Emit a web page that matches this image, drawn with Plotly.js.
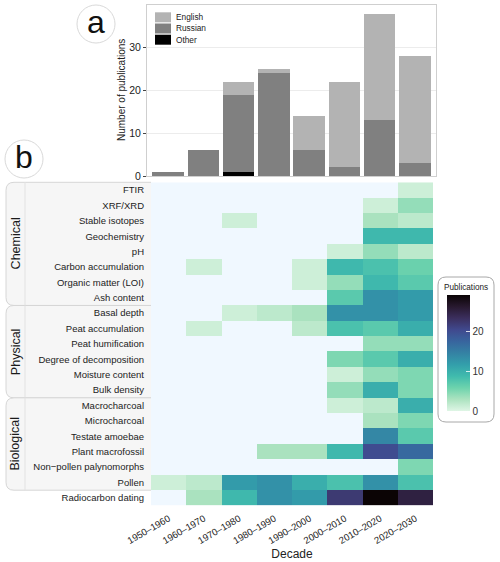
<!DOCTYPE html>
<html><head><meta charset="utf-8">
<script src="https://cdn.plot.ly/plotly-3.0.1.min.js"></script>
<style>html,body{margin:0;padding:0;background:#fff}#chart{width:500px;height:562px}</style>
</head><body><div id="chart"></div>
<script>
// ---------- data ----------
const decades = ["1950–1960","1960–1970","1970–1980","1980–1990","1990–2000","2000–2010","2010–2020","2020–2030"];
const langNames = ["English","Russian","Other"];
const english = [0,0,3,1,8,20,25,25];
const russian = [1,6,18,24,6,2,13,3];
const other   = [0,0,1,0,0,0,0,0];

const methods = ["FTIR","XRF/XRD","Stable isotopes","Geochemistry","pH","Carbon accumulation",
  "Organic matter (LOI)","Ash content","Basal depth","Peat accumulation","Peat humification",
  "Degree of decomposition","Moisture content","Bulk density","Macrocharcoal","Microcharcoal",
  "Testate amoebae","Plant macrofossil","Non−pollen palynomorphs","Pollen","Radiocarbon dating"];
const counts = [
  [0,0,0,0,0,0,0,1],
  [0,0,0,0,0,0,1,4],
  [0,0,1,0,0,0,3,2],
  [0,0,0,0,0,0,9,9],
  [0,0,0,0,0,1,4,2],
  [0,1,0,0,1,9,8,6],
  [0,0,0,0,1,4,9,7],
  [0,0,0,0,0,7,13,12],
  [0,0,1,2,3,13,13,12],
  [0,1,0,0,2,8,7,10],
  [0,0,0,0,0,0,4,4],
  [0,0,0,0,0,5,7,10],
  [0,0,0,0,0,1,4,5],
  [0,0,0,0,0,4,10,5],
  [0,0,0,0,0,1,2,10],
  [0,0,0,0,0,0,3,5],
  [0,0,0,0,0,0,14,7],
  [0,0,0,3,3,9,20,17],
  [0,0,0,0,0,0,0,5],
  [1,2,12,13,10,8,13,8],
  [0,3,9,13,12,22,29,25]
];
const groupNames = ["Chemical","Physical","Biological"];
const groupFirst = [0,8,14];
const groupLast  = [7,13,19];

// ---------- styling helpers ----------
const W = 500, H = 562;
const px = x => x / W;
const py = y => 1 - y / H;
const FONT = "Liberation Sans, Arial, Helvetica, sans-serif";
const langColors = {English:"#b3b3b3", Russian:"#808080", Other:"#000000"};

const heatTop = 182.3, heatBot = 505.6, heatL = 151, heatR = 433;
const rowH = (heatBot - heatTop) / methods.length;

const mako = [[0,"#F0F8FF"],[0.001,"#DEF5E5"],[0.1,"#ACE3C0"],[0.2,"#6DD3AD"],[0.3,"#40BBAD"],
  [0.4,"#339FAB"],[0.5,"#3482A4"],[0.6,"#38659E"],[0.7,"#40498E"],[0.8,"#3B2F5E"],
  [0.9,"#28192F"],[1,"#0B0405"]];

const seriesData = {English: english, Russian: russian, Other: other};
const barOrder = ["Other","Russian","English"];
const traces = barOrder.map(n => ({
  type:"bar", x: decades, y: seriesData[n], name: n, xaxis:"x", yaxis:"y",
  marker:{color: langColors[n], line:{width:0}}, width:0.9, hoverinfo:"x+y+name"
}));

traces.push({
  type:"heatmap", x: decades, y: methods, z: counts, xaxis:"x2", yaxis:"y2",
  zmin:0, zmax:29, colorscale: mako, xgap:0, ygap:0,
  colorbar:{
    x: px(447), xanchor:"left", xpad:0, ypad:0,
    y: py(353), yanchor:"middle", len:116, lenmode:"pixels",
    thickness:23, thicknessmode:"pixels", outlinewidth:0,
    tickvals:[0,10,20], ticks:"inside", ticklen:4, tickcolor:"rgba(255,255,255,0.8)",
    tickfont:{family:FONT, size:10, color:"#333"}
  }
});

function roundRect(x0,y0,x1,y1,r){
  return `M${px(x0+r)},${py(y0)} L${px(x1-r)},${py(y0)} Q${px(x1)},${py(y0)} ${px(x1)},${py(y0+r)} `+
    `L${px(x1)},${py(y1-r)} Q${px(x1)},${py(y1)} ${px(x1-r)},${py(y1)} L${px(x0+r)},${py(y1)} `+
    `Q${px(x0)},${py(y1)} ${px(x0)},${py(y1-r)} L${px(x0)},${py(y0+r)} Q${px(x0)},${py(y0)} ${px(x0+r)},${py(y0)} Z`;
}
function leftRound(x0,y0,x1,y1,r){
  return `M${px(x1)},${py(y0)} L${px(x0+r)},${py(y0)} Q${px(x0)},${py(y0)} ${px(x0)},${py(y0+r)} `+
    `L${px(x0)},${py(y1-r)} Q${px(x0)},${py(y1)} ${px(x0+r)},${py(y1)} L${px(x1)},${py(y1)}`;
}

const shapes = [];
const annotations = [];

// strip boxes
groupNames.forEach((g,i)=>{
  const t = heatTop + groupFirst[i]*rowH, b = heatTop + (groupLast[i]+1)*rowH;
  shapes.push({type:"path", xref:"paper", yref:"paper", path: leftRound(6,t,heatL,b,8),
    fillcolor:"#f6f6f6", line:{color:"#d6d6d6", width:1}, layer:"below"});
  shapes.push({type:"line", xref:"paper", yref:"paper", x0:px(25), x1:px(25), y0:py(t), y1:py(b),
    line:{color:"#e2e2e2", width:1}, layer:"below"});
  annotations.push({xref:"paper", yref:"paper", x:px(15.5), y:py((t+b)/2), text:g, showarrow:false,
    textangle:-90, font:{family:FONT, size:12.5, color:"#1a1a1a"}, xanchor:"center", yanchor:"middle"});
});

// colorbar box
shapes.push({type:"path", xref:"paper", yref:"paper", path: roundRect(438,277,494,422,8),
  fillcolor:"rgba(255,255,255,0)", line:{color:"#a8a8a8", width:1}, layer:"below"});
annotations.push({xref:"paper", yref:"paper", x:px(466), y:py(287), text:"Publications", showarrow:false,
  font:{family:FONT, size:8.2, color:"#222"}, xanchor:"center", yanchor:"middle"});

// panel letters
[["a",96,24],["b",24,159]].forEach(([t,cx,cy])=>{
  shapes.push({type:"circle", xref:"paper", yref:"paper", x0:px(cx-19), x1:px(cx+19), y0:py(cy+19), y1:py(cy-19),
    fillcolor:"#ffffff", line:{color:"#d9d9d9", width:1}});
  annotations.push({xref:"paper", yref:"paper", x:px(cx), y:py(cy-2), text:t, showarrow:false,
    font:{family:FONT, size:32, color:"#111"}, xanchor:"center", yanchor:"middle"});
});

// y-axis title of panel a
annotations.push({xref:"paper", yref:"paper", x:px(121), y:py(90), text:"Number of publications", showarrow:false,
  textangle:-90, font:{family:FONT, size:10, color:"#222"}, xanchor:"center", yanchor:"middle"});

// legend (manual, compact like reference)
langNames.forEach((n,i)=>{
  const top = 12.3 + i*11.2;
  shapes.push({type:"rect", xref:"paper", yref:"paper", x0:px(155), x1:px(171), y0:py(top+10), y1:py(top),
    fillcolor: langColors[n], line:{width:0}});
  annotations.push({xref:"paper", yref:"paper", x:px(173.5), y:py(top+5), text:n, showarrow:false,
    font:{family:FONT, size:8.3, color:"#222"}, xanchor:"left", yanchor:"middle"});
});

const layout = {
  width:W, height:H, margin:{l:0,r:0,t:0,b:0}, showlegend:false,
  paper_bgcolor:"#fff", plot_bgcolor:"rgba(0,0,0,0)", barmode:"stack", bargap:0.1,
  font:{family:FONT, color:"#333"},
  xaxis:{domain:[px(147),px(436)], anchor:"y", range:[-0.6,7.6], showticklabels:false, ticks:"",
    showgrid:false, zeroline:false, showline:true, mirror:true, linecolor:"#cfcfcf", linewidth:1, fixedrange:true},
  yaxis:{domain:[py(176),py(5)], anchor:"x", range:[0,40], tickvals:[0,10,20,30], ticks:"outside", ticklen:3,
    tickcolor:"#444", tickfont:{family:FONT, size:10.5, color:"#222"}, showgrid:true, gridcolor:"#ececec",
    zeroline:false, showline:true, mirror:true, linecolor:"#cfcfcf", linewidth:1},
  xaxis2:{domain:[px(heatL),px(heatR)], anchor:"y2", tickangle:-30, ticks:"", showgrid:false, zeroline:false,
    ticklabelstandoff:5, tickfont:{family:FONT, size:9.5, color:"#222"},
    title:{text:"Decade", font:{family:FONT, size:12, color:"#222"}, standoff:4}},
  yaxis2:{domain:[py(heatBot),py(heatTop)], anchor:"x2", autorange:"reversed", ticks:"", showgrid:false,
    zeroline:false, ticklabelstandoff:6, tickfont:{family:FONT, size:9.5, color:"#222"}},
  shapes, annotations
};

Plotly.newPlot("chart", traces, layout, {displayModeBar:false, staticPlot:true});
</script></body></html>
